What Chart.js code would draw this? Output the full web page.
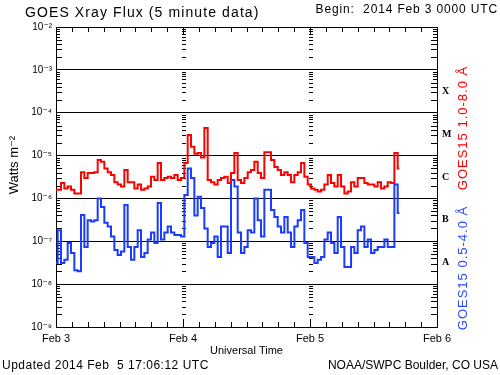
<!DOCTYPE html>
<html>
<head>
<meta charset="utf-8">
<script src="https://cdn.jsdelivr.net/npm/chart.js@4.4.1/dist/chart.umd.min.js"></script>
<style>
  body { margin: 0; background: #fff; }
  #wrap { width: 500px; height: 375px; }
</style>
</head>
<body>
<div id="wrap"><canvas id="myChart" width="500" height="375"></canvas></div>
<script>
// hours since 2014 Feb 3 00:00 UTC
const hours = [
  0, 0.63, 1.26, 1.89, 2.52, 3.15, 3.78, 4.41, 5.04, 5.67, 6.30, 6.93, 7.56, 8.19, 8.82, 9.45, 10.08, 10.71, 11.34, 11.97, 12.60,
  13.23, 13.86, 14.49, 15.12, 15.75, 16.38, 17.01, 17.64, 18.27, 18.90, 19.53, 20.16, 20.79, 21.42, 22.05, 22.68, 23.31, 23.94, 24.57, 25.20, 25.83,
  26.46, 27.09, 27.72, 28.35, 28.98, 29.61, 30.24, 30.87, 31.50, 32.13, 32.76, 33.39, 34.02, 34.65, 35.28, 35.91, 36.54, 37.17, 37.80, 38.43, 39.06,
  39.69, 40.32, 40.95, 41.58, 42.21, 42.84, 43.47, 44.10, 44.73, 45.36, 45.99, 46.62, 47.25, 47.88, 48.51, 49.14, 49.77, 50.40, 51.03, 51.66, 52.29,
  52.92, 53.55, 54.18, 54.81, 55.44, 56.07, 56.70, 57.33, 57.96, 58.59, 59.22, 59.85, 60.48, 61.11, 61.74, 62.37, 63.00, 63.63, 64.26, 64.89
]
// GOES15 1.0-8.0 A  (W/m2)
const longFlux = [
  1.6e-6, 1.6e-6, 2.3e-6, 1.7e-6, 1.9e-6, 1.6e-6, 1.3e-6, 1.3e-6, 4.1e-6, 3.0e-6, 3.9e-6, 3.9e-6, 4.1e-6, 7.9e-6, 7.2e-6, 5.0e-6, 4.1e-6, 3.5e-6, 2.4e-6, 2.1e-6, 1.9e-6,
  4.6e-6, 2.4e-6, 2.4e-6, 1.7e-6, 2.1e-6, 1.6e-6, 1.7e-6, 1.9e-6, 3.2e-6, 2.7e-6, 6.7e-6, 2.7e-6, 3.0e-6, 3.2e-6, 3.0e-6, 3.5e-6, 2.7e-6, 3.0e-6, 6.7e-6, 3.0e-5, 1.6e-5,
  1.1e-5, 1.15e-5, 9.0e-6, 4.4e-5, 2.7e-6, 2.4e-6, 2.1e-6, 2.7e-6, 3.0e-6, 3.2e-6, 2.3e-6, 3.9e-6, 1.15e-5, 2.7e-6, 2.3e-6, 3.0e-6, 4.1e-6, 4.6e-6, 7.2e-6, 3.9e-6, 3.0e-6,
  1.2e-5, 1.2e-5, 7.9e-6, 5.4e-6, 4.6e-6, 3.5e-6, 4.1e-6, 3.5e-6, 2.4e-6, 3.5e-6, 4.1e-6, 6.7e-6, 3.2e-6, 2.1e-6, 1.7e-6, 1.6e-6, 1.45e-6, 1.6e-6, 2.1e-6, 3.5e-6, 2.3e-6,
  1.9e-6, 3.5e-6, 1.9e-6, 1.3e-6, 1.45e-6, 2.4e-6, 1.9e-6, 3.0e-6, 3.0e-6, 2.3e-6, 2.1e-6, 2.1e-6, 1.9e-6, 2.4e-6, 1.7e-6, 1.9e-6, 2.4e-6, 2.3e-6, 1.15e-5, 5.0e-6
]
// GOES15 0.5-4.0 A  (W/m2)
const shortFlux = [
  3.1e-8, 1.8e-7, 3.1e-8, 3.7e-8, 9.1e-8, 5.3e-8, 2.1e-8, 2.0e-8, 4.1e-7, 7.4e-8, 3.1e-7, 2.9e-7, 3.1e-7, 1.0e-6, 6.3e-7, 2.7e-7, 2.2e-7, 1.3e-7, 6.3e-8, 4.8e-8, 5.8e-8,
  7.0e-7, 7.4e-8, 3.7e-8, 7.4e-8, 1.8e-7, 4.3e-8, 5.3e-8, 1.1e-7, 1.6e-7, 9.1e-8, 7.8e-7, 1.1e-7, 1.6e-7, 2.2e-7, 1.6e-7, 1.4e-7, 1.4e-7, 1.3e-7, 1.2e-6, 5.0e-6, 3.0e-6,
  4.0e-7, 1.1e-6, 6.0e-7, 2.0e-7, 7.4e-8, 9.1e-8, 1.3e-7, 4.3e-8, 2.2e-7, 2.2e-7, 5.3e-8, 2.7e-6, 1.9e-6, 1.6e-7, 5.3e-8, 7.4e-8, 1.8e-7, 1.6e-7, 1.0e-6, 3.1e-7, 1.3e-7,
  1.6e-6, 1.6e-6, 5.4e-7, 3.7e-7, 2.2e-7, 1.6e-7, 3.7e-7, 1.6e-7, 7.4e-8, 2.2e-7, 3.1e-7, 5.4e-7, 9.1e-8, 4.3e-8, 4.3e-8, 3.1e-8, 3.7e-8, 4.3e-8, 1.1e-7, 1.6e-7, 9.1e-8,
  5.3e-8, 3.7e-7, 7.4e-8, 2.5e-8, 2.5e-8, 7.4e-8, 5.3e-8, 1.8e-7, 2.2e-7, 7.4e-8, 1.1e-7, 5.3e-8, 6.3e-8, 7.4e-8, 7.4e-8, 1.1e-7, 7.4e-8, 7.4e-8, 2.1e-6, 4.6e-7
]
const dayHours = [0, 24, 48, 72]
const dayLabels = ['Feb 3', 'Feb 4', 'Feb 5', 'Feb 6']
const decades = [1e-9, 1e-8, 1e-7, 1e-6, 1e-5, 1e-4, 1e-3, 1e-2]
const decadeLabels = ['10⁻⁹', '10⁻⁸', '10⁻⁷', '10⁻⁶', '10⁻⁵', '10⁻⁴', '10⁻³', '10⁻²']
const classFlux = [3.16e-8, 3.16e-7, 3.16e-6, 3.16e-5, 3.16e-4]
const classLetters = ['A', 'B', 'C', 'M', 'X']

const FONT = "'Liberation Sans', 'DejaVu Sans', sans-serif"

const decor = {
  id: 'decor',
  beforeDatasetsDraw(chart) {
    const { ctx, chartArea: a, scales: { x, y } } = chart
    ctx.save()
    ctx.strokeStyle = '#000'
    ctx.lineWidth = 1
    ctx.beginPath()
    ctx.moveTo(a.left, a.top + 0.5)
    ctx.lineTo(a.right, a.top + 0.5)
    // minor log ticks on both sides and at the day columns
    for (let e = -9; e < -2; e++) {
      for (let m = 2; m <= 9; m++) {
        const py = Math.round(y.getPixelForValue(m * Math.pow(10, e))) + 0.5
        const len = m <= 5 ? 6 : 4
        ctx.moveTo(a.left, py); ctx.lineTo(a.left + len, py)
        ctx.moveTo(a.right, py); ctx.lineTo(a.right - len, py)
        dayHours.slice(1, 3).forEach(d => {
          const px = Math.round(x.getPixelForValue(d))
          ctx.moveTo(px - 1, py); ctx.lineTo(px + 3, py)
        })
      }
    }
    // 3 hour ticks on top and bottom
    for (let h = 3; h < 72; h += 3) {
      const px = Math.round(x.getPixelForValue(h)) + 0.5
      const len = h % 24 === 0 ? 8 : 5
      ctx.moveTo(px, a.top); ctx.lineTo(px, a.top + len)
      ctx.moveTo(px, a.bottom); ctx.lineTo(px, a.bottom - len)
    }
    ctx.stroke()
    ctx.restore()
  },
  afterDraw(chart) {
    const { ctx, chartArea: a } = chart
    ctx.save()
    ctx.fillStyle = '#000'
    ctx.textBaseline = 'middle'
    ctx.font = '14px ' + FONT
    ctx.letterSpacing = '1.1px'
    ctx.textAlign = 'left'
    ctx.fillText('GOES Xray Flux (5 minute data)', 25, 13)
    ctx.font = '12px ' + FONT
    ctx.letterSpacing = '0.85px'
    ctx.textAlign = 'right'
    ctx.fillText('Begin:  2014 Feb 3 0000 UTC', 498, 10)
    ctx.letterSpacing = '0px'
    ctx.fillText('NOAA/SWPC Boulder, CO USA', 498, 366)
    ctx.textAlign = 'left'
    ctx.letterSpacing = '0.5px'
    ctx.fillText('Updated 2014 Feb  5 17:06:12 UTC', 2, 366)
    ctx.letterSpacing = '0px'
    ctx.font = '11px ' + FONT
    ctx.textAlign = 'center'
    ctx.fillText('Universal Time', (a.left + a.right) / 2, 351)

    ctx.save()
    ctx.translate(14, 165)
    ctx.rotate(-Math.PI / 2)
    ctx.font = '13px ' + FONT
    ctx.fillText('Watts m⁻²', 0, 0)
    ctx.restore()

    ctx.save()
    ctx.translate(463, 0)
    ctx.rotate(-Math.PI / 2)
    ctx.font = '13px ' + FONT
    ctx.letterSpacing = '1px'
    ctx.fillStyle = '#ff0000'
    ctx.fillText('GOES15 1.0-8.0 Å', -128, 0)
    ctx.fillStyle = '#2a4cff'
    ctx.fillText('GOES15 0.5-4.0 Å', -268, 0)
    ctx.restore()
    ctx.restore()
  }
}

window.onload = () => {
  const ctx = document.getElementById('myChart')
  const config = {
    type: 'line',
    data: {
      datasets: [
        {
          data: hours.map((h, i) => ({ x: h, y: longFlux[i] })),
          borderColor: '#ff0000',
          borderWidth: 2,
          pointRadius: 0,
          stepped: 'middle',
          yAxisID: 'y'
        },
        {
          data: hours.map((h, i) => ({ x: h, y: shortFlux[i] })),
          borderColor: '#1a3cff',
          borderWidth: 2,
          pointRadius: 0,
          stepped: 'middle',
          yAxisID: 'y'
        }
      ]
    },
    options: {
      responsive: false,
      animation: false,
      devicePixelRatio: 1,
      layout: { padding: { top: 27, left: 0, right: 0, bottom: 0 } },
      plugins: { legend: { display: false }, tooltip: { enabled: false } },
      scales: {
        x: {
          type: 'linear',
          min: 0,
          max: 72,
          afterBuildTicks: s => { s.ticks = dayHours.map(v => ({ value: v })) },
          afterFit: s => { s.height = 48 },
          ticks: {
            callback: v => dayLabels[dayHours.indexOf(v)],
            color: '#000',
            font: { family: FONT, size: 11 },
            padding: 5,
            maxRotation: 0,
            autoSkip: false
          },
          grid: { drawOnChartArea: false, drawTicks: false },
          border: { color: '#000', width: 1 }
        },
        y: {
          type: 'logarithmic',
          position: 'left',
          min: 1e-9,
          max: 1e-2,
          afterBuildTicks: s => { s.ticks = decades.map(v => ({ value: v })) },
          afterFit: s => { s.width = 56 },
          ticks: {
            callback: v => decadeLabels[decades.indexOf(v)],
            color: '#000',
            font: { family: FONT, size: 10 },
            padding: 4,
            autoSkip: false
          },
          grid: { color: '#000', lineWidth: 1, drawTicks: false },
          border: { color: '#000', width: 1 }
        },
        y2: {
          type: 'logarithmic',
          position: 'right',
          min: 1e-9,
          max: 1e-2,
          afterBuildTicks: s => { s.ticks = classFlux.map(v => ({ value: v })) },
          afterFit: s => { s.width = 63 },
          ticks: {
            callback: v => classLetters[classFlux.indexOf(v)],
            color: '#000',
            font: { family: "'Liberation Serif', 'DejaVu Serif', serif", size: 10, weight: 'bold' },
            padding: 5,
            autoSkip: false
          },
          grid: { display: false, drawTicks: false },
          border: { color: '#000', width: 1 }
        }
      }
    },
    plugins: [decor]
  }
  new Chart(ctx, config)
}
</script>
</body>
</html>
